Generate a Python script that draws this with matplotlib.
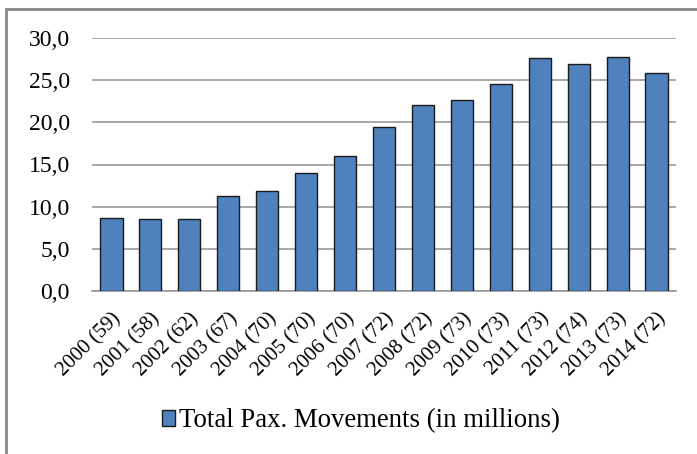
import matplotlib
matplotlib.use("Agg")
import matplotlib.pyplot as plt
from matplotlib.patches import Rectangle

categories = ["2000 (59)", "2001 (58)", "2002 (62)", "2003 (67)", "2004 (70)",
              "2005 (70)", "2006 (70)", "2007 (72)", "2008 (72)", "2009 (73)",
              "2010 (73)", "2011 (73)", "2012 (74)", "2013 (73)", "2014 (72)"]
values = [8.7, 8.5, 8.5, 11.3, 11.9, 14.0, 16.0, 19.4, 22.0, 22.6, 24.5, 27.6, 26.9, 27.8, 25.8]
yticks = [0, 5, 10, 15, 20, 25, 30]
ytick_labels = ["0,0", "5,0", "10,0", "15,0", "20,0", "25,0", "30,0"]
series_name = "Total Pax. Movements (in millions)"

plt.rcParams['font.family'] = ['Liberation Serif', 'DejaVu Serif']

W, H = 697, 454
fig = plt.figure(figsize=(W / 100, H / 100), dpi=100)
ax = fig.add_axes([92 / W, 1 - 291 / H, (676 - 92) / W, (291 - 38) / H])

x = list(range(len(categories)))
bars = ax.bar(x, values, width=0.57, color="#4F81BD", edgecolor="#1a1a1a",
              linewidth=1.0, zorder=3, label=series_name)
ax.set_xlim(-0.5, len(categories) - 0.5)
ax.set_ylim(0, 30)
ax.set_yticks(yticks)
ax.set_yticklabels(ytick_labels, fontsize=17)
ax.set_xticks(x)
ax.set_xticklabels(categories, rotation=45, ha="right", rotation_mode="anchor", fontsize=15)
ax.tick_params(axis="both", length=0)
ax.tick_params(axis="y", pad=16)
ax.tick_params(axis="x", pad=13)
ax.yaxis.grid(True, color="#999999", linewidth=1.2, zorder=0)
for s in ["top", "right", "left"]:
    ax.spines[s].set_visible(False)
ax.spines["bottom"].set_color("#999999")
ax.spines["bottom"].set_linewidth(1.2)

fig.legend(handles=[bars], labels=[series_name], loc="center",
           bbox_to_anchor=(361 / W, 1 - 421 / H), frameon=False, fontsize=19.3,
           handlelength=0.5, handleheight=0.5, handletextpad=0.15)

fig.add_artist(Rectangle((6 / W, -0.05), 1.2, 1 - 9 / H + 0.05, transform=fig.transFigure,
                         fill=False, edgecolor="#888888", linewidth=2))

fig.savefig("out.png", dpi=100)
